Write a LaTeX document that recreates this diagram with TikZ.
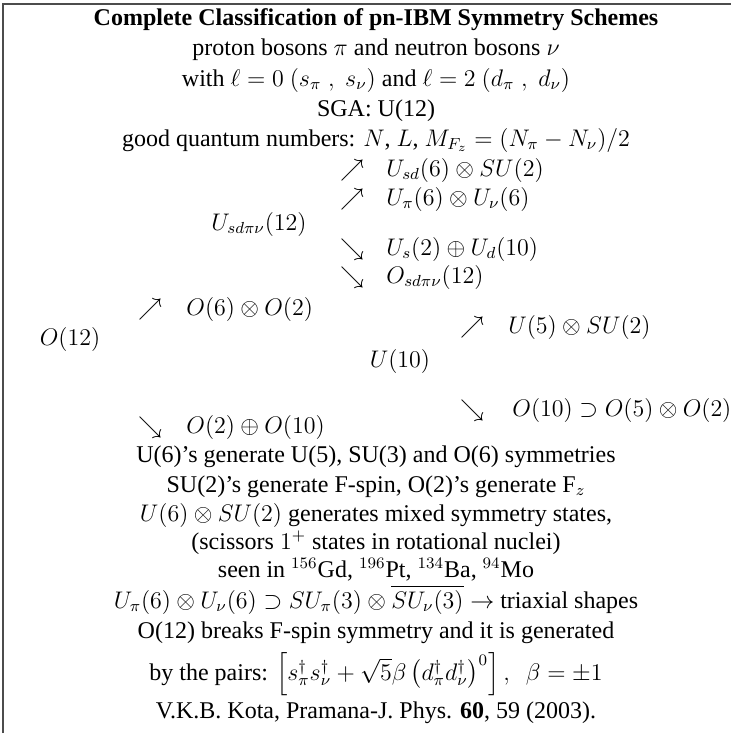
\documentclass[tikz,border=0pt]{standalone}
\usepackage{amsmath}
\usepackage[no-math]{fontspec}
\setmainfont{Liberation Serif}

\begin{document}
\begin{tikzpicture}[
    x=0.5pt, y=-0.5pt,
    linea/.style={font=\fontsize{12}{14}\selectfont, inner sep=0pt, anchor=base},
    grupo/.style={linea, anchor=base west},
    marco/.style={draw=black!70, line width=1pt}
]
    \useasboundingbox (0,0) rectangle (737,733);
    % Marco: solo arriba y a la izquierda
    \draw[marco] (3,733) -- (3,4) -- (731,4);

    % Cabecera centrada
    \node[linea, font=\fontsize{12}{14}\selectfont\bfseries] (titulo) at (376,26) {Complete Classification of pn-IBM Symmetry Schemes};
    \node[linea] (bosones) at (376,56) {proton bosons $\pi$ and neutron bosons $\nu$};
    \node[linea] (ele) at (376,86) {with $\ell=0$ $(s_\pi\;,\;s_\nu)$ and $\ell=2$ $(d_\pi\;,\;d_\nu)$};
    \node[linea] (sga) at (376,116) {SGA: U(12)};
    \node[linea] (numeros) at (376,146) {good quantum numbers: $N$, $L$, $M_{F_z}=(N_\pi-N_\nu)/2$};

    % Cadenas de U(12)
    \node[linea] (f1) at (352,176) {$\nearrow$};
    \node[grupo] (usdsu) at (386,176) {$U_{sd}(6)\otimes SU(2)$};
    \node[linea] (f2) at (352,205) {$\nearrow$};
    \node[grupo] (upiunu) at (386,205) {$U_\pi(6)\otimes U_\nu(6)$};
    \node[linea] (usdpn) at (259,230) {$U_{sd\pi\nu}(12)$};
    \node[linea] (f3) at (352,255) {$\searrow$};
    \node[grupo] (usud) at (386,255) {$U_s(2)\oplus U_d(10)$};
    \node[linea] (f4) at (352,283) {$\searrow$};
    \node[grupo] (osdpn) at (386,283) {$O_{sd\pi\nu}(12)$};

    % Cadenas de O(12) y U(10)
    \node[linea] (o12) at (70,345) {$O(12)$};
    \node[linea] (f5) at (150,315) {$\nearrow$};
    \node[grupo] (o6o2) at (186,315) {$O(6)\otimes O(2)$};
    \node[linea] (f6) at (150,433) {$\searrow$};
    \node[grupo] (o2o10) at (186,433) {$O(2)\oplus O(10)$};
    \node[linea] (u10) at (400,367) {$U(10)$};
    \node[linea] (f7) at (472,333) {$\nearrow$};
    \node[grupo] (u5su2) at (508,333) {$U(5)\otimes SU(2)$};
    \node[linea] (f8) at (472,416) {$\searrow$};
    \node[grupo] (o10) at (512,416) {$O(10)\supset O(5)\otimes O(2)$};

    % Comentarios al pie
    \node[linea] (c1) at (376,462) {U(6)'s generate U(5), SU(3) and O(6) symmetries};
    \node[linea] (c2) at (376,492) {SU(2)'s generate F-spin, O(2)'s generate F$_z$};
    \node[linea] (c3) at (376,521) {$U(6)\otimes SU(2)$ generates mixed symmetry states,};
    \node[linea] (c4) at (376,549) {(scissors $1^+$ states in rotational nuclei)};
    \node[linea] (c5) at (376,577) {seen in $^{156}$Gd, $^{196}$Pt, $^{134}$Ba, $^{94}$Mo};
    \node[linea] (c6) at (376,608) {$U_\pi(6)\otimes U_\nu(6)\supset SU_\pi(3)\otimes\overline{SU_\nu(3)}\rightarrow$ triaxial shapes};
    \node[linea] (c7) at (376,638) {O(12) breaks F-spin symmetry and it is generated};
    \node[linea] (c8) at (376,680) {by the pairs: $\left[s^\dagger_\pi s^\dagger_\nu+\sqrt{5}\beta\left(d^\dagger_\pi d^\dagger_\nu\right)^0\right],~~\beta=\pm1$};
    \node[linea] (cita) at (376,718) {V.K.B. Kota, Pramana-J. Phys. \textbf{60}, 59 (2003).};
\end{tikzpicture}
\end{document}
